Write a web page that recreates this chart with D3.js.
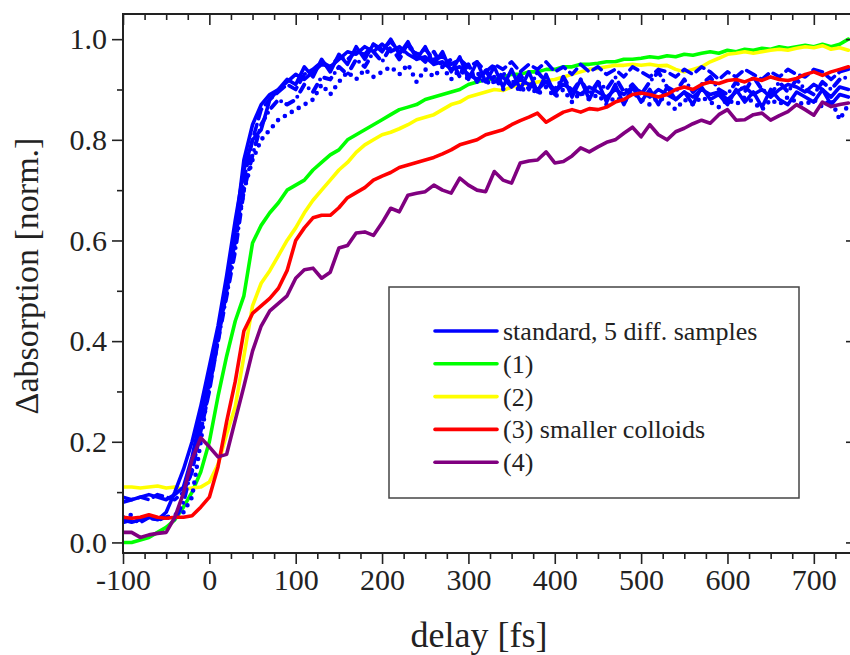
<!DOCTYPE html>
<html>
<head>
<meta charset="utf-8">
<script src="https://cdn.jsdelivr.net/npm/d3@7"></script>
<style>
  body { margin: 0; background: #fff; }
  svg { display: block; }
  svg text { font-family: "Liberation Serif", "Times New Roman", Times, serif !important; }
</style>
</head>
<body>
<div id="chart"></div>
<script>
// delay grid [fs]
const delay = [-100,-90,-80,-70,-60,-50,-40,-30,-20,-10,0,10,20,30,40,50,60,70,80,90,
  100,110,120,130,140,150,160,170,180,190,200,210,220,230,240,250,260,270,280,290,
  300,310,320,330,340,350,360,370,380,390,400,410,420,430,440,450,460,470,480,490,
  500,510,520,530,540,550,560,570,580,590,600,610,620,630,640,650,660,670,680,690,
  700,710,720,730,740];

// standard, 5 diff. samples
const std1 = [0.09,0.085,0.09,0.095,0.09,0.085,0.095,0.11,0.17,0.25,0.33,0.42,0.52,0.62,0.76,0.83,0.87,0.89,0.90,0.92,
  0.91,0.945,0.925,0.96,0.935,0.97,0.95,0.985,0.96,0.99,0.975,1.0,0.97,0.995,0.96,0.985,0.95,0.975,0.935,0.965,
  0.92,0.955,0.915,0.945,0.905,0.94,0.90,0.935,0.895,0.93,0.89,0.925,0.885,0.92,0.88,0.915,0.875,0.91,0.87,0.905,
  0.875,0.90,0.87,0.905,0.88,0.895,0.87,0.905,0.88,0.89,0.87,0.90,0.875,0.895,0.865,0.90,0.88,0.87,0.895,0.885,
  0.875,0.90,0.87,0.89,0.885];
const std2 = [0.045,0.04,0.045,0.05,0.045,0.06,0.10,0.145,0.20,0.27,0.35,0.43,0.53,0.64,0.74,0.80,0.82,0.88,0.90,0.915,
  0.93,0.92,0.935,0.95,0.945,0.96,0.975,0.97,0.985,0.975,0.99,0.975,0.985,0.97,0.96,0.965,0.95,0.955,0.94,0.945,
  0.93,0.92,0.935,0.915,0.925,0.905,0.92,0.91,0.90,0.915,0.895,0.91,0.90,0.89,0.905,0.895,0.885,0.90,0.89,0.905,
  0.895,0.885,0.90,0.89,0.88,0.895,0.885,0.90,0.89,0.895,0.88,0.895,0.905,0.89,0.90,0.885,0.90,0.91,0.905,0.895,
  0.91,0.90,0.885,0.905,0.90];
const std3 = [0.08,0.085,0.09,0.085,0.095,0.09,0.085,0.10,0.14,0.22,0.30,0.40,0.50,0.60,0.72,0.80,0.86,0.88,0.895,0.91,
  0.90,0.93,0.94,0.955,0.945,0.965,0.96,0.975,0.97,0.99,0.98,0.995,0.975,0.985,0.97,0.98,0.96,0.965,0.95,0.96,
  0.945,0.955,0.935,0.95,0.94,0.955,0.935,0.95,0.94,0.955,0.935,0.945,0.93,0.95,0.935,0.945,0.93,0.94,0.925,0.945,
  0.935,0.925,0.94,0.935,0.925,0.94,0.93,0.945,0.935,0.92,0.935,0.925,0.94,0.93,0.92,0.935,0.925,0.94,0.93,0.925,
  0.94,0.935,0.92,0.935,0.94];
const std4 = [0.05,0.055,0.045,0.05,0.045,0.05,0.055,0.06,0.09,0.20,0.32,0.41,0.50,0.60,0.70,0.76,0.80,0.82,0.84,0.85,
  0.86,0.87,0.88,0.91,0.89,0.915,0.935,0.92,0.94,0.925,0.935,0.945,0.93,0.95,0.915,0.94,0.925,0.945,0.92,0.94,
  0.92,0.935,0.91,0.925,0.90,0.92,0.895,0.91,0.89,0.905,0.885,0.90,0.875,0.895,0.88,0.89,0.87,0.885,0.875,0.895,
  0.88,0.87,0.885,0.875,0.86,0.88,0.87,0.885,0.875,0.865,0.88,0.87,0.885,0.875,0.86,0.88,0.87,0.885,0.875,0.87,
  0.88,0.865,0.88,0.84,0.87];
const std5 = [0.04,0.045,0.04,0.05,0.045,0.05,0.045,0.08,0.15,0.23,0.31,0.40,0.49,0.58,0.70,0.77,0.83,0.86,0.88,0.87,
  0.88,0.91,0.895,0.925,0.92,0.945,0.93,0.96,0.945,0.975,0.955,0.985,0.96,0.99,0.97,0.955,0.975,0.945,0.96,0.925,
  0.95,0.915,0.94,0.91,0.935,0.905,0.93,0.90,0.935,0.915,0.90,0.925,0.895,0.92,0.89,0.915,0.90,0.925,0.895,0.91,
  0.89,0.915,0.935,0.905,0.895,0.92,0.895,0.91,0.925,0.90,0.89,0.915,0.895,0.925,0.90,0.89,0.915,0.895,0.92,0.90,
  0.89,0.915,0.90,0.92,0.925];

// (1)
const s1 = [0.0,0.0,0.005,0.01,0.02,0.03,0.045,0.07,0.10,0.14,0.20,0.29,0.37,0.44,0.49,0.595,0.63,0.655,0.675,0.70,
  0.71,0.72,0.74,0.755,0.77,0.78,0.80,0.81,0.82,0.83,0.84,0.85,0.86,0.865,0.87,0.88,0.885,0.89,0.895,0.90,
  0.91,0.915,0.92,0.92,0.925,0.93,0.93,0.935,0.935,0.94,0.94,0.945,0.945,0.95,0.95,0.952,0.955,0.955,0.96,0.96,
  0.962,0.965,0.963,0.967,0.965,0.97,0.968,0.972,0.975,0.972,0.978,0.975,0.98,0.978,0.982,0.98,0.985,0.982,0.985,0.988,
  0.985,0.99,0.985,0.99,1.0];
// (2)
const s2 = [0.11,0.11,0.108,0.11,0.112,0.108,0.11,0.105,0.108,0.11,0.12,0.155,0.215,0.27,0.37,0.47,0.515,0.54,0.57,0.60,
  0.625,0.655,0.68,0.70,0.72,0.74,0.755,0.775,0.79,0.80,0.81,0.815,0.822,0.83,0.84,0.845,0.85,0.86,0.87,0.875,
  0.885,0.89,0.895,0.90,0.898,0.905,0.91,0.912,0.915,0.918,0.92,0.925,0.93,0.935,0.94,0.942,0.945,0.948,0.948,0.95,
  0.948,0.95,0.947,0.948,0.94,0.935,0.94,0.945,0.955,0.962,0.97,0.972,0.975,0.972,0.975,0.978,0.98,0.978,0.982,0.985,
  0.983,0.987,0.98,0.983,0.978];
// (3) smaller colloids
const s3 = [0.05,0.048,0.05,0.055,0.05,0.048,0.05,0.05,0.053,0.07,0.09,0.15,0.24,0.32,0.42,0.455,0.47,0.485,0.505,0.54,
  0.60,0.625,0.645,0.65,0.65,0.665,0.685,0.695,0.705,0.72,0.728,0.735,0.745,0.75,0.755,0.76,0.765,0.772,0.78,0.79,
  0.795,0.80,0.81,0.815,0.82,0.83,0.838,0.845,0.853,0.835,0.845,0.855,0.86,0.855,0.862,0.86,0.865,0.875,0.88,0.89,
  0.893,0.89,0.885,0.89,0.90,0.905,0.90,0.91,0.915,0.912,0.918,0.92,0.915,0.922,0.918,0.925,0.92,0.918,0.922,0.93,
  0.935,0.928,0.935,0.94,0.945];
// (4)
const s4 = [0.02,0.02,0.01,0.015,0.018,0.02,0.05,0.098,0.165,0.208,0.19,0.17,0.175,0.243,0.31,0.38,0.43,0.46,0.475,0.49,
  0.525,0.542,0.545,0.525,0.537,0.585,0.59,0.615,0.617,0.61,0.635,0.664,0.657,0.69,0.694,0.697,0.71,0.70,0.694,0.724,
  0.71,0.70,0.697,0.737,0.72,0.714,0.754,0.758,0.76,0.776,0.754,0.757,0.768,0.784,0.776,0.786,0.795,0.80,0.813,0.825,
  0.806,0.83,0.81,0.80,0.816,0.823,0.832,0.839,0.833,0.85,0.86,0.839,0.84,0.85,0.853,0.839,0.848,0.856,0.87,0.86,
  0.849,0.875,0.866,0.87,0.873];

const legendLabels = ["standard, 5 diff. samples", "(1)", "(2)", "(3) smaller colloids", "(4)"];
const legendColors = ["#0000ff", "#00ff00", "#ffff00", "#ff0000", "#800080"];
const xMajor = [-100, 0, 100, 200, 300, 400, 500, 600, 700];
const yMajor = [0.0, 0.2, 0.4, 0.6, 0.8, 1.0];

const W = 850, H = 655;
const pL = 123, pR = 857, pT = 14, pB = 553;

const svg = d3.select("#chart").append("svg")
  .attr("width", W).attr("height", H);

const x = d3.scaleLinear().domain([-100, 750]).range([pL, pR]);
const y = d3.scaleLinear().domain([-0.021, 1.05]).range([pB, pT]);

const xMinor = d3.range(-100, 751, 25).filter(v => v % 100 !== 0);
const yMinor = [0.1, 0.3, 0.5, 0.7, 0.9];

svg.append("clipPath").attr("id", "plotclip")
  .append("rect")
  .attr("x", pL).attr("y", pT)
  .attr("width", pR - pL).attr("height", pB - pT);

const plot = svg.append("g").attr("clip-path", "url(#plotclip)");

const line = d3.line()
  .x((d, i) => x(delay[i]))
  .y(d => y(d));

function drawCurve(vals, color, dash, w) {
  plot.append("path")
    .datum(vals)
    .attr("fill", "none")
    .attr("stroke", color)
    .attr("stroke-width", w || 3.6)
    .attr("stroke-linejoin", "round")
    .attr("stroke-linecap", "round")
    .attr("stroke-dasharray", dash)
    .attr("d", line);
}

// colored samples first, blue on top, then red/purple
drawCurve(s1, legendColors[1], null);
drawCurve(s2, legendColors[2], null);
drawCurve(std1, legendColors[0], null);
drawCurve(std2, legendColors[0], null);
drawCurve(std3, legendColors[0], "10,6");
drawCurve(std4, legendColors[0], "0,8", 4.6);
drawCurve(std5, legendColors[0], "8,6,0,6", 4);
drawCurve(s3, legendColors[3], null);
drawCurve(s4, legendColors[4], null);

// axes
const axisColor = "#222";
function styleAxis(g) {
  g.select(".domain").remove();
  g.attr("font-family", null).attr("font-size", null);
  g.selectAll("line").attr("stroke", axisColor).attr("stroke-width", 1.6);
  g.selectAll("text").attr("fill", "#222").style("font-size", "30px");
}

svg.append("g").attr("transform", `translate(0,${pB})`)
  .call(d3.axisBottom(x).tickValues(xMajor).tickSize(11).tickPadding(5).tickFormat(d => String(d)))
  .call(styleAxis);
svg.append("g").attr("transform", `translate(0,${pB})`)
  .call(d3.axisBottom(x).tickValues(xMinor).tickSize(6).tickFormat(""))
  .call(styleAxis);
svg.append("g").attr("transform", `translate(0,${pT})`)
  .call(d3.axisBottom(x).tickValues(xMajor).tickSize(11).tickFormat(""))
  .call(styleAxis);
svg.append("g").attr("transform", `translate(0,${pT})`)
  .call(d3.axisBottom(x).tickValues(xMinor).tickSize(6).tickFormat(""))
  .call(styleAxis);

svg.append("g").attr("transform", `translate(${pL},0)`)
  .call(d3.axisLeft(y).tickValues(yMajor).tickSize(11).tickPadding(5).tickFormat(d => d.toFixed(1)))
  .call(styleAxis);
svg.append("g").attr("transform", `translate(${pL},0)`)
  .call(d3.axisLeft(y).tickValues(yMinor).tickSize(6).tickFormat(""))
  .call(styleAxis);
svg.append("g").attr("transform", `translate(${pR},0)`)
  .call(d3.axisLeft(y).tickValues(yMajor).tickSize(11).tickFormat(""))
  .call(styleAxis);
svg.append("g").attr("transform", `translate(${pR},0)`)
  .call(d3.axisLeft(y).tickValues(yMinor).tickSize(6).tickFormat(""))
  .call(styleAxis);

// frame
svg.append("rect")
  .attr("x", pL).attr("y", pT)
  .attr("width", pR - pL).attr("height", pB - pT)
  .attr("fill", "none").attr("stroke", axisColor).attr("stroke-width", 2);

// axis titles
svg.append("text")
  .attr("x", 479).attr("y", 647)
  .attr("text-anchor", "middle")
  .attr("font-size", "36px").attr("fill", "#222")
  .text("delay [fs]");
svg.append("text")
  .attr("transform", `translate(38,276) rotate(-90)`)
  .attr("text-anchor", "middle")
  .attr("font-size", "34px").attr("fill", "#222")
  .text("\u0394absorption [norm.]");

// legend
const lg = svg.append("g");
lg.append("rect")
  .attr("x", 389).attr("y", 287).attr("width", 410).attr("height", 211)
  .attr("fill", "#fff").attr("stroke", "#444").attr("stroke-width", 1.5);
legendLabels.forEach((lab, i) => {
  const yy = 331 + i * 32.8;
  lg.append("line")
    .attr("x1", 435).attr("x2", 497).attr("y1", yy).attr("y2", yy)
    .attr("stroke", legendColors[i]).attr("stroke-width", 3.6)
    .attr("stroke-linecap", "round");
  lg.append("text")
    .attr("x", 503).attr("y", yy + 9)
    .attr("font-size", "26px").attr("fill", "#222")
    .text(lab);
});
</script>
</body>
</html>
